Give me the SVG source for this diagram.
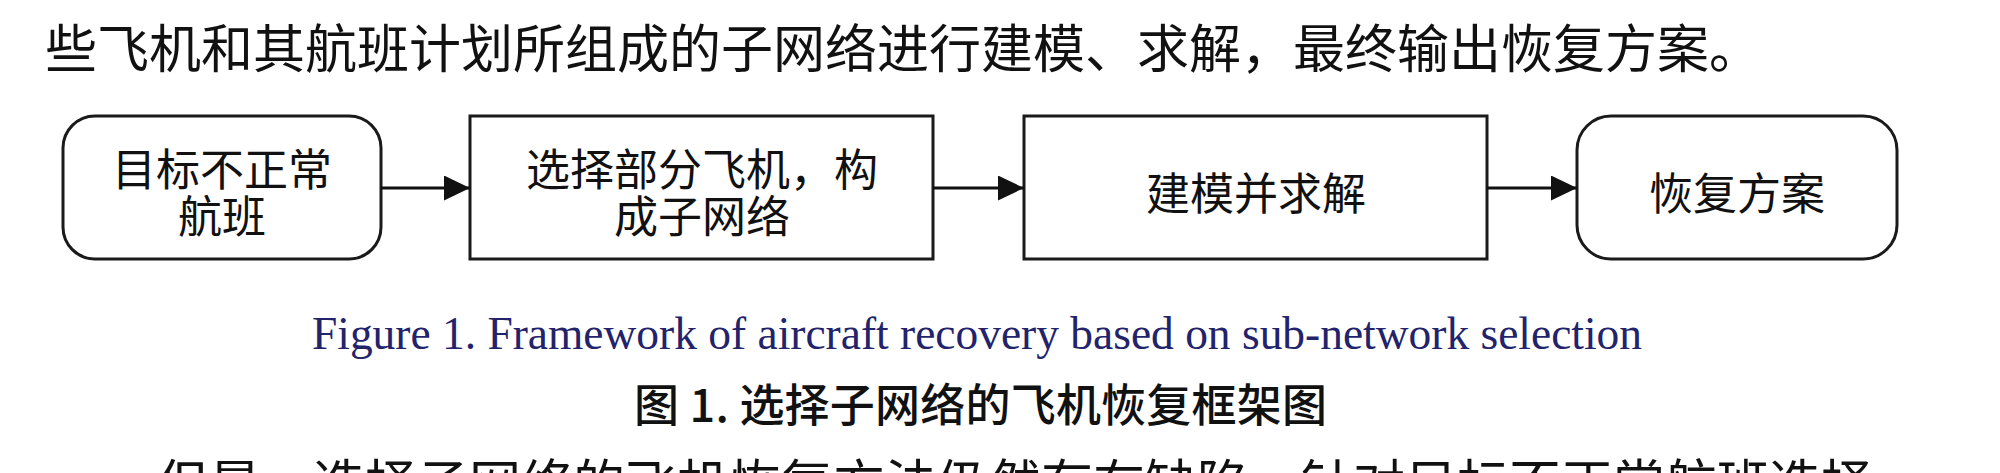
<svg xmlns="http://www.w3.org/2000/svg" width="2000" height="473" viewBox="0 0 2000 473">
<defs>
<style>
.body{font-family:"Noto Sans CJK SC","Liberation Serif",serif;font-size:52px;fill:#111;}
.box{fill:#fff;stroke:#1a1a1a;stroke-width:3;}
.lbl{font-family:"Noto Sans CJK SC","Liberation Sans",sans-serif;font-size:44px;fill:#111;text-anchor:middle;}
.conn{stroke:#111;stroke-width:3;fill:none;marker-end:url(#ah);}
.cap-en{font-family:"Liberation Serif",serif;font-size:46px;fill:#23236b;}
.cap-zh{font-family:"Noto Sans CJK SC","Liberation Sans",sans-serif;font-size:45px;fill:#111;font-weight:500;}
</style>
<marker id="ah" markerWidth="26" markerHeight="26" refX="26" refY="12.5" orient="auto" markerUnits="userSpaceOnUse">
<path d="M0,0 L26,12.5 L0,25 Z" fill="#111"/>
</marker>
</defs>
<rect width="2000" height="473" fill="#fff"/>
<text class="body" x="45" y="68">些飞机和其航班计划所组成的子网络进行建模、求解，最终输出恢复方案。</text>

<g id="node-target">
<rect class="box" x="63" y="116" width="318" height="143" rx="32" ry="32"/>
<text class="lbl"><tspan x="222" y="186">目标不正常</tspan><tspan x="222" y="233">航班</tspan></text>
</g>
<g id="node-select">
<rect class="box" x="470" y="116" width="463" height="143"/>
<text class="lbl"><tspan x="702" y="186">选择部分飞机，构</tspan><tspan x="702" y="233">成子网络</tspan></text>
</g>
<g id="node-model">
<rect class="box" x="1024" y="116" width="463" height="143"/>
<text class="lbl" x="1256" y="210">建模并求解</text>
</g>
<g id="node-plan">
<rect class="box" x="1577" y="116" width="320" height="143" rx="34" ry="34"/>
<text class="lbl" x="1737" y="210">恢复方案</text>
</g>

<g id="connectors">
<line class="conn" x1="381" y1="188" x2="470" y2="188"/>
<line class="conn" x1="933" y1="188" x2="1024" y2="188"/>
<line class="conn" x1="1487" y1="188" x2="1577" y2="188"/>
</g>

<text class="cap-en" x="312" y="349" textLength="1330" lengthAdjust="spacingAndGlyphs">Figure 1. Framework of aircraft recovery based on sub-network selection</text>
<text class="cap-zh" x="634" y="422" textLength="693" lengthAdjust="spacing">图 1. 选择子网络的飞机恢复框架图</text>
<text class="body" x="157" y="503">但是，选择子网络的飞机恢复方法仍然存在缺陷，针对目标不正常航班选择</text>
</svg>
